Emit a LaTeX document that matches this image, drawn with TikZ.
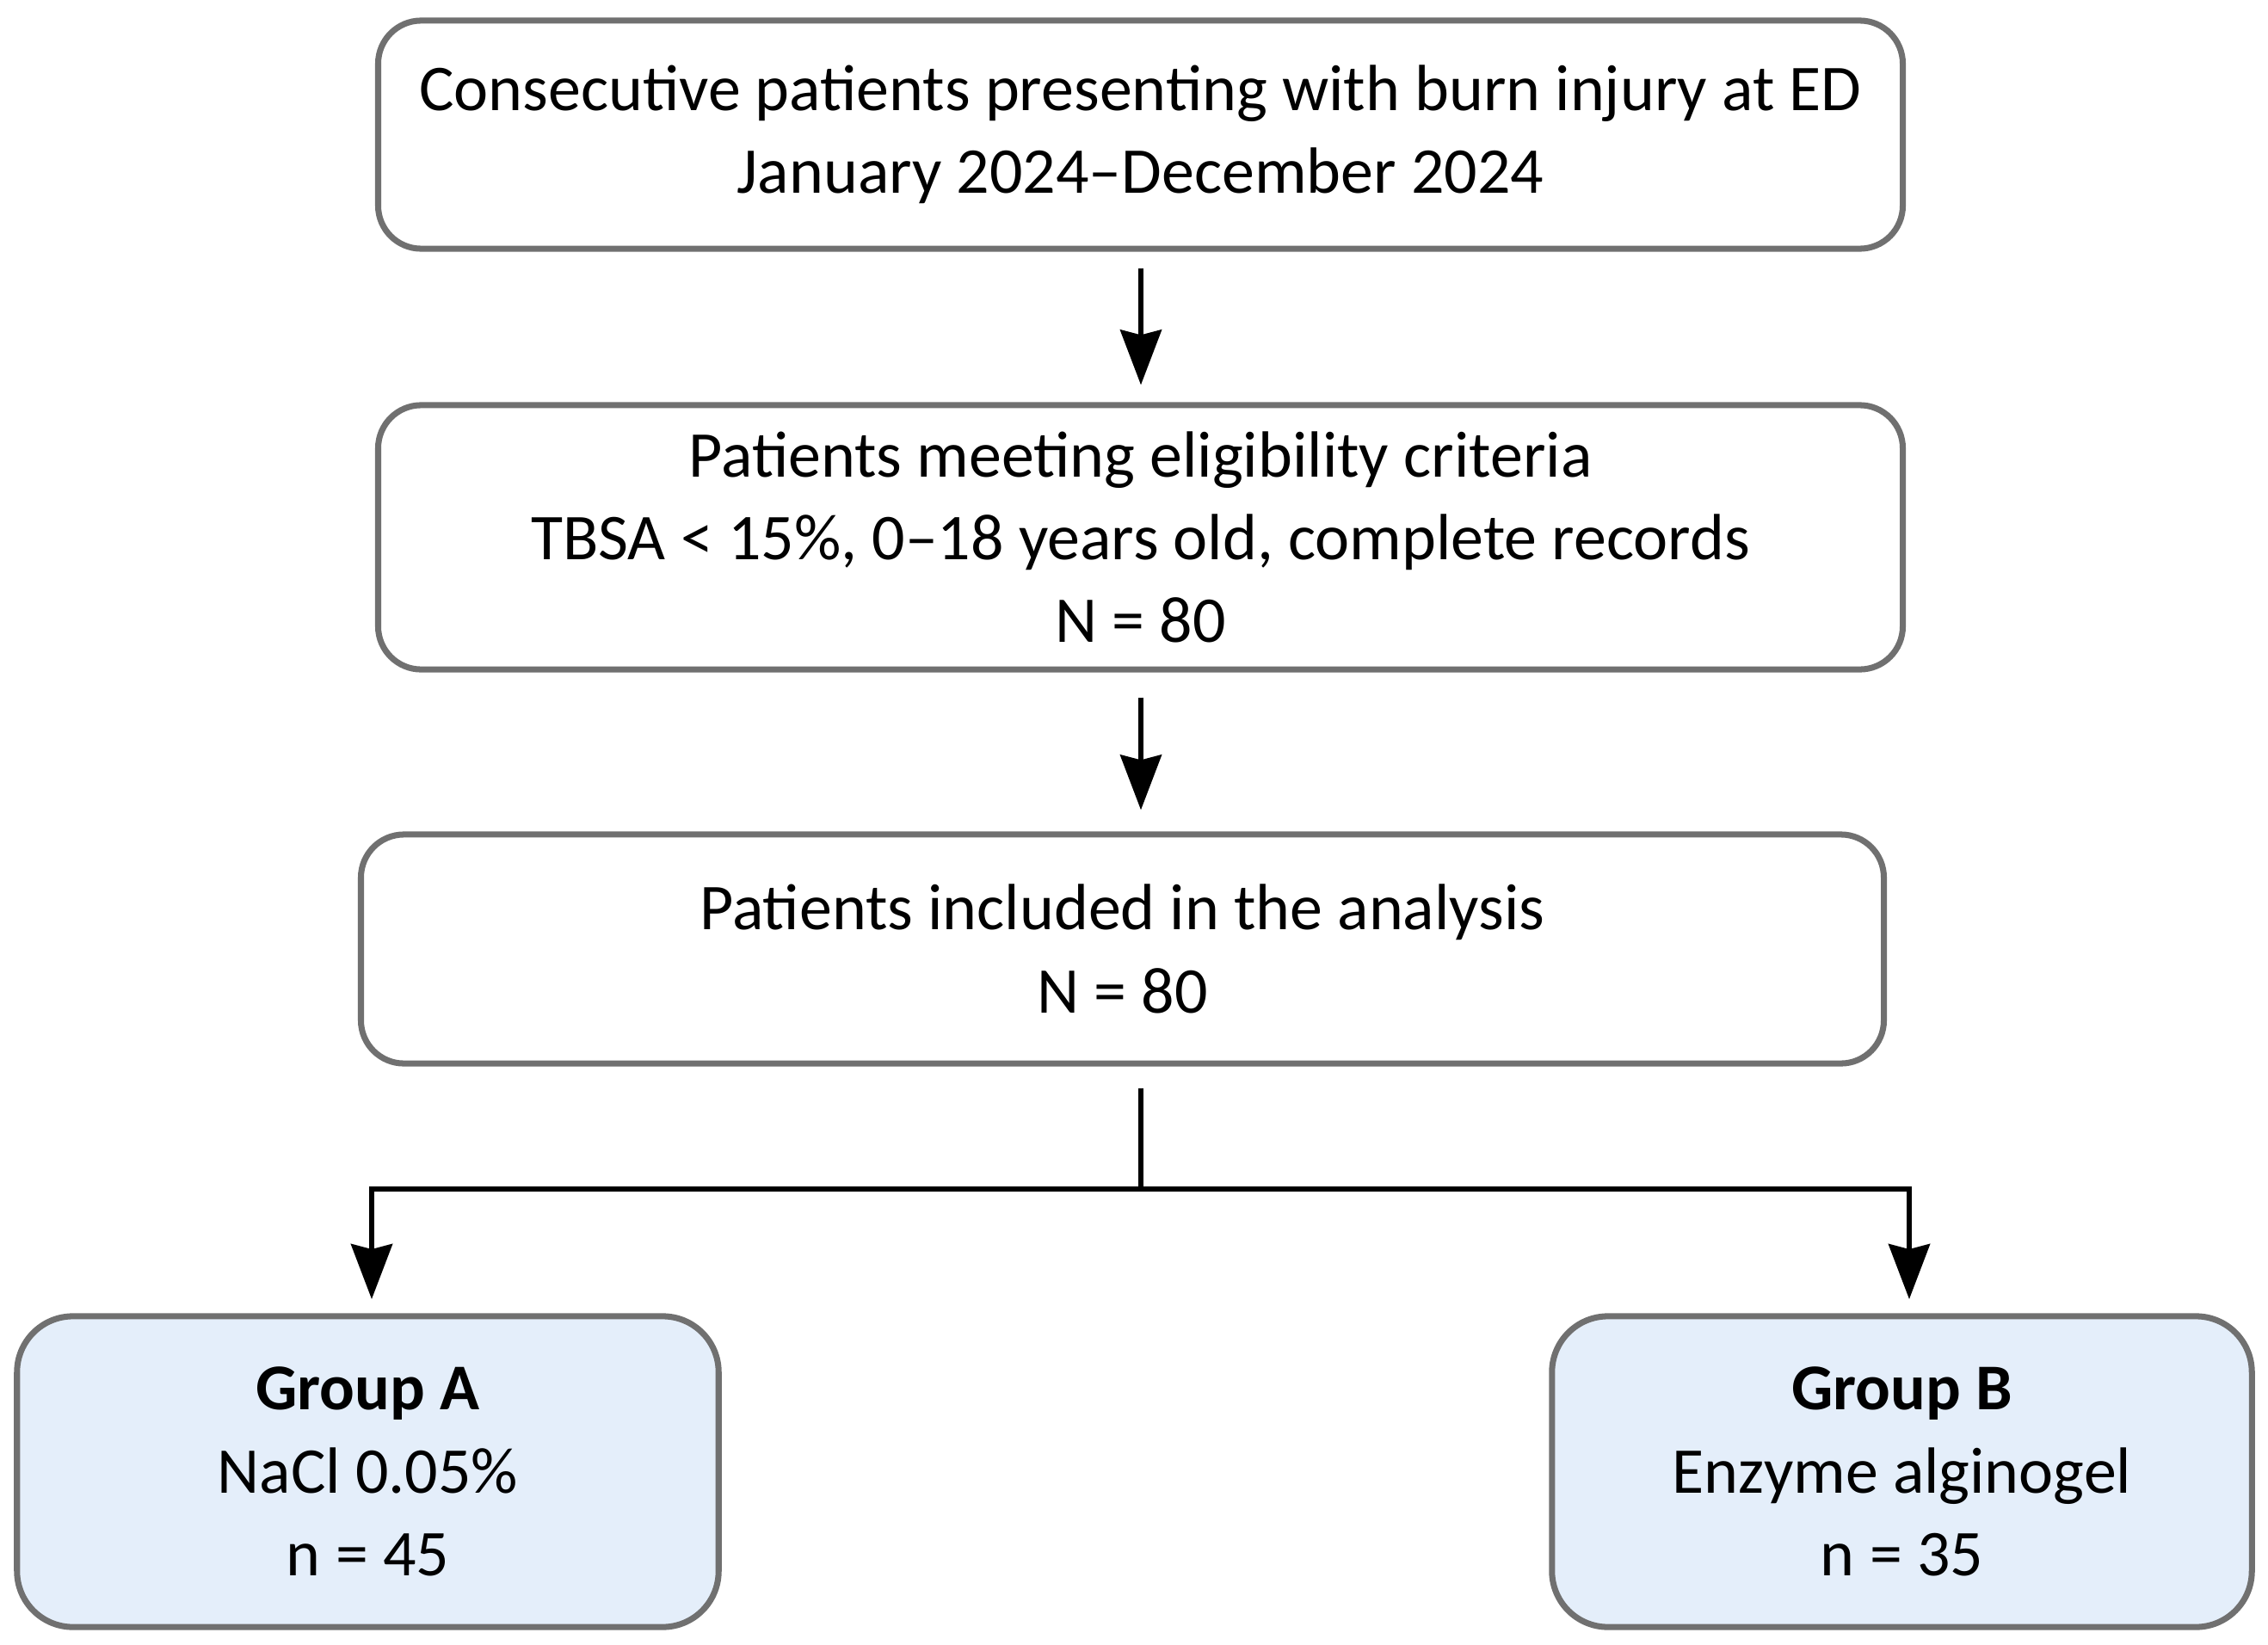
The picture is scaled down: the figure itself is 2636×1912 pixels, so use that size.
\documentclass[tikz,border=0pt]{standalone}
\usepackage{fontspec}
\setmainfont{Carlito}
\usetikzlibrary{arrows.meta}
\definecolor{boxline}{HTML}{707070}
\definecolor{groupfill}{HTML}{E4EEFA}
\tikzset{
  flowbox/.style={draw=boxline, line width=2pt, rounded corners=0.5cm, fill=white, align=center,
    font=\fontsize{21.6}{27.4}\selectfont, inner sep=0pt},
  groupbox/.style={flowbox, fill=groupfill, rounded corners=0.65cm},
  conn/.style={line width=1.5pt, black},
  arr/.style={conn, -{Stealth[length=0.64cm,width=0.48cm,inset=0.06cm]}}
}
\begin{document}
\begin{tikzpicture}[x=0.01cm,y=-0.01cm]
\useasboundingbox (0,0) rectangle (2636,1912);
\node[flowbox, minimum width=17.71cm, minimum height=2.65cm] (b1) at (1325.5,156.5)
  {Consecutive patients presenting with burn injury at ED\\January 2024–December 2024};
\node[flowbox, minimum width=17.71cm, minimum height=3.07cm] (b2) at (1325.5,624.5)
  {Patients meeting eligibility criteria\\TBSA < 15\%, 0–18 years old, complete records\\N = 80};
\node[flowbox, minimum width=17.69cm, minimum height=2.66cm] (b3) at (1304.5,1103)
  {Patients included in the analysis\\N = 80};
\node[groupbox, minimum width=8.15cm, minimum height=3.61cm] (gA) at (427.5,1710.5)
  {\textbf{Group A}\\NaCl 0.05\%\\n = 45};
\node[groupbox, minimum width=8.13cm, minimum height=3.61cm] (gB) at (2210.5,1710.5)
  {\textbf{Group B}\\Enzyme alginogel\\n = 35};
\coordinate (split) at (1326,1382);
\coordinate (tA) at (432,1510);
\coordinate (tB) at (2219,1510);
\draw[arr, shorten <=0.19cm, shorten >=0.2cm] (b1.south -| split) -- (b2.north -| split);
\draw[arr, shorten <=0.29cm, shorten >=0.25cm] (b2.south -| split) -- (b3.north -| split);
\draw[conn, shorten <=0.25cm] (b3.south -| split) -- (split);
\draw[arr] (split) -| (tA);
\draw[arr] (split) -| (tB);
\end{tikzpicture}
\end{document}
